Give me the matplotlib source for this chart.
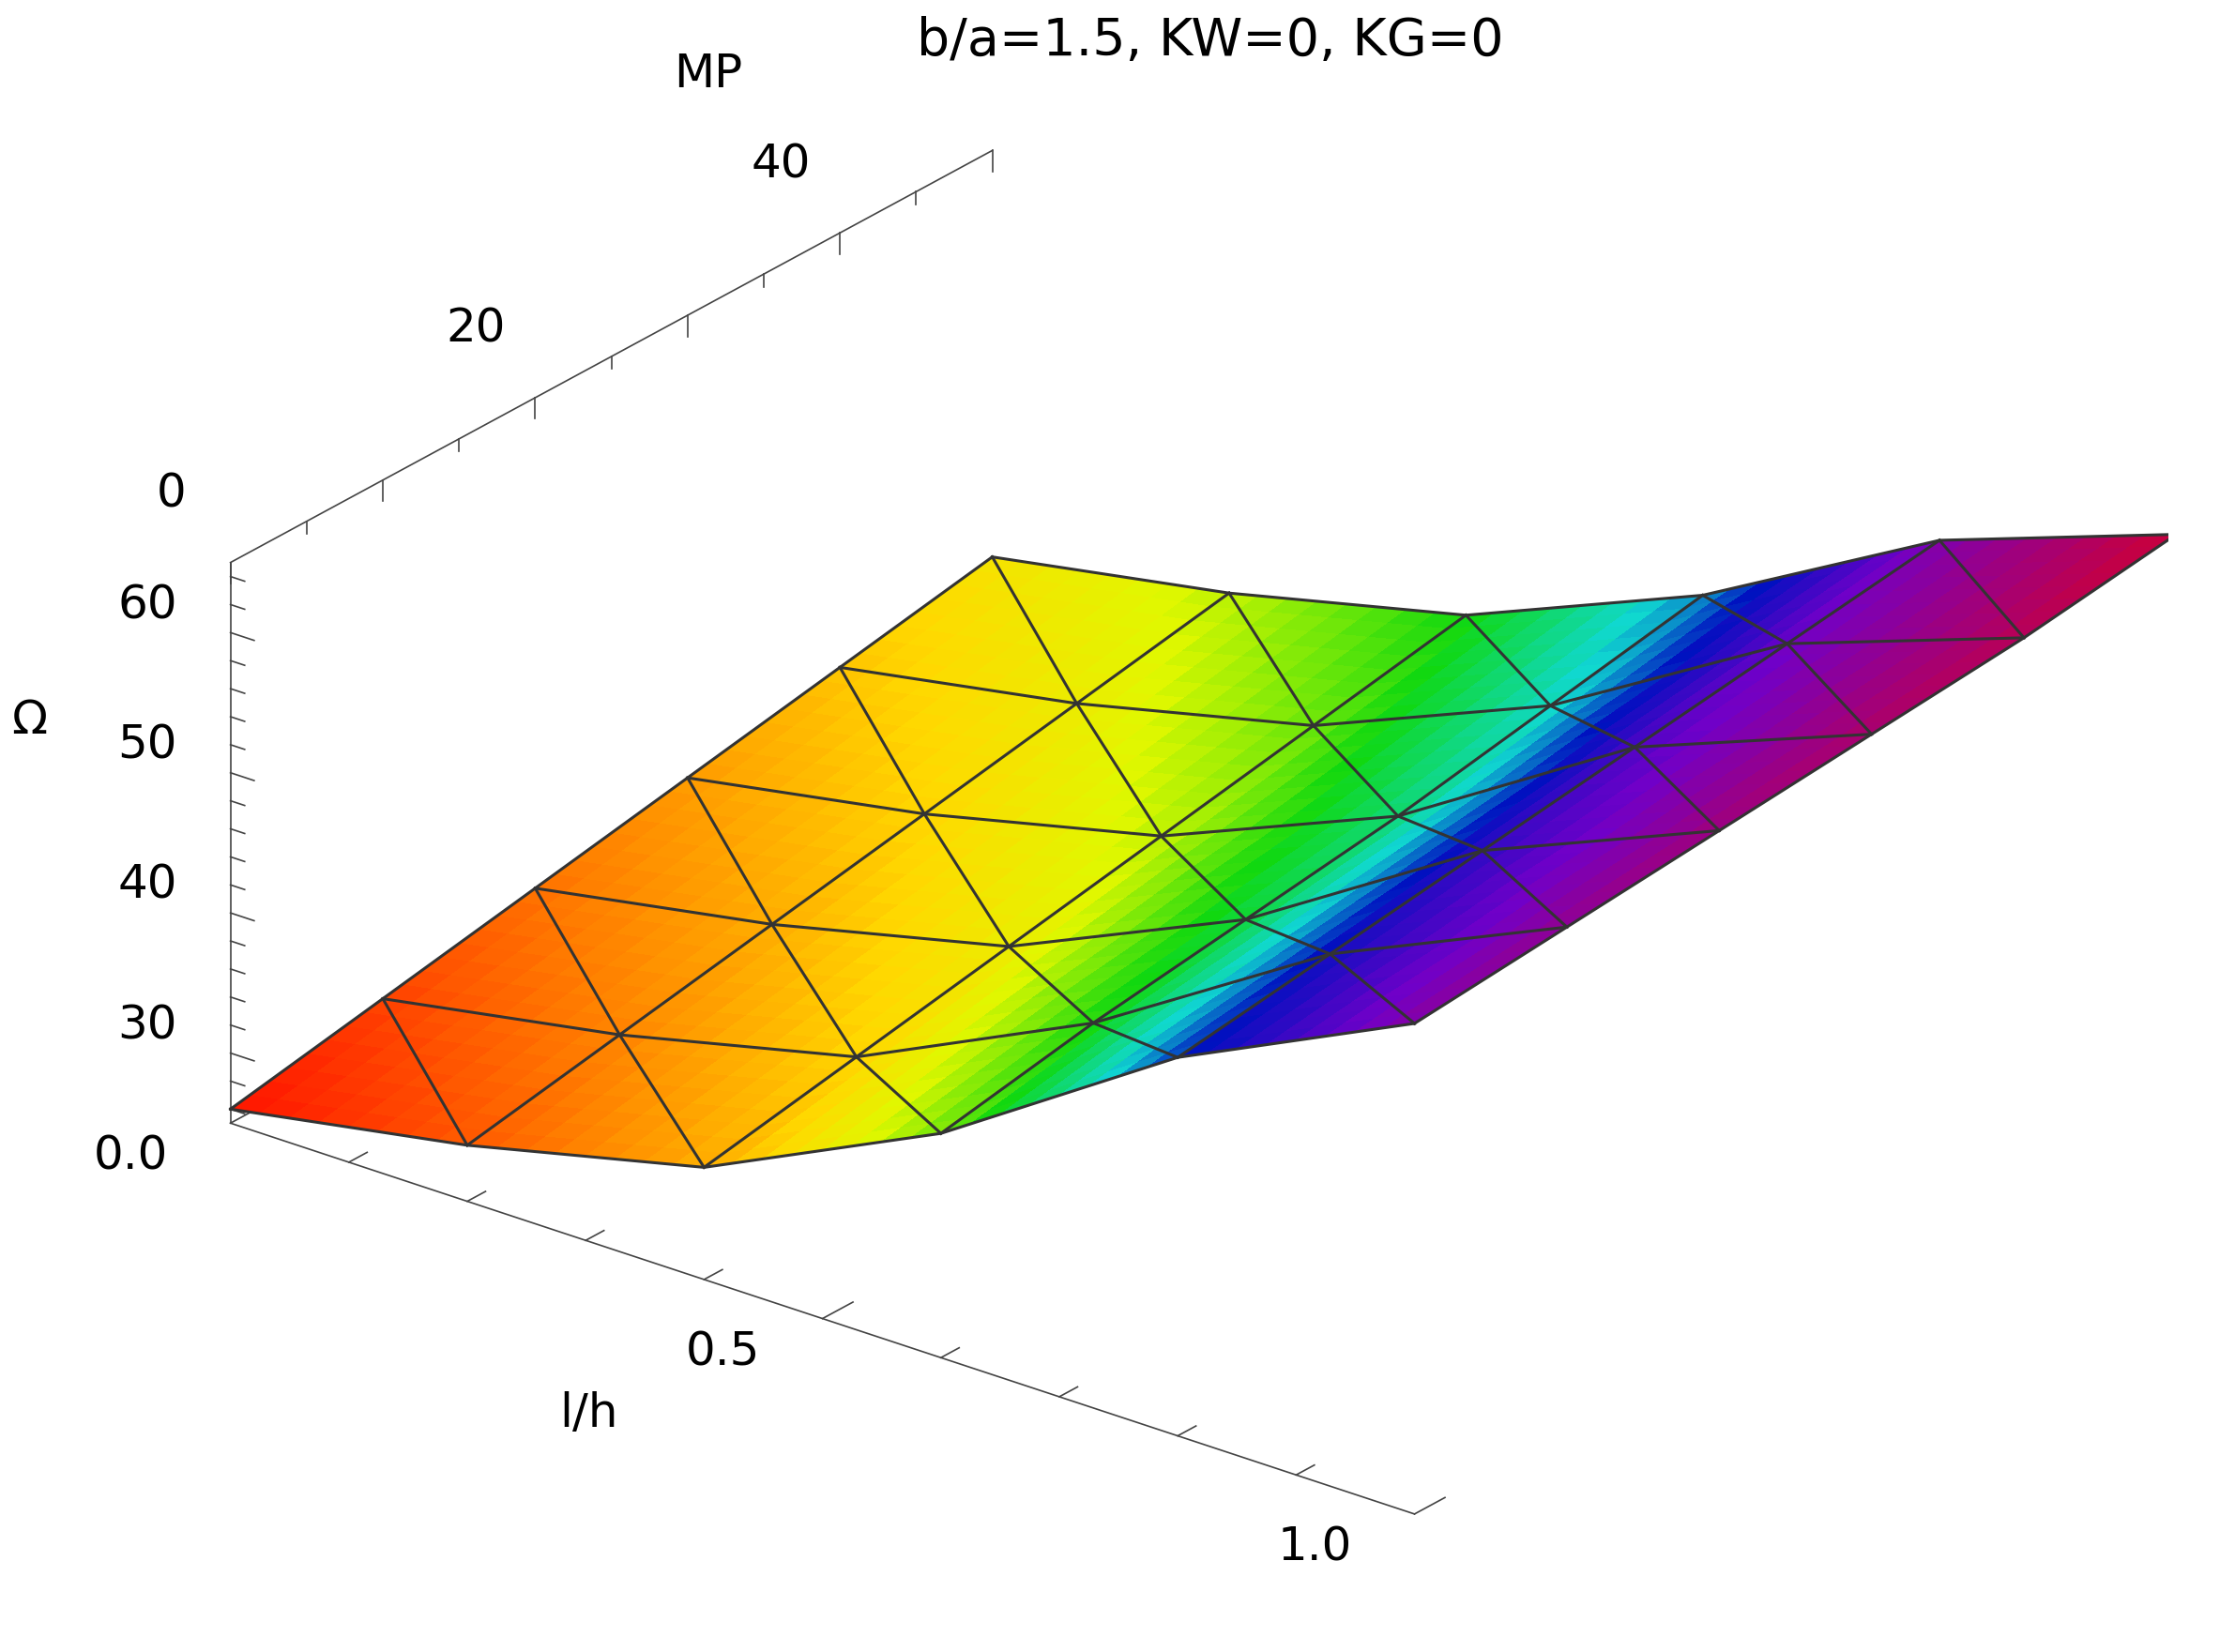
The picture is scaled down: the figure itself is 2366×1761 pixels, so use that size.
import numpy as np
import matplotlib
matplotlib.use("Agg")
import matplotlib.pyplot as plt
from matplotlib.colors import LinearSegmentedColormap

lh = [0.0, 0.2, 0.4, 0.6, 0.8, 1.0]
mp = [0, 10, 20, 30, 40, 50]
# Omega[i_mp][j_lh]
omega = [
    [26.0, 29.0, 33.0, 41.0, 52.0, 60.0],
    [28.0, 31.0, 35.0, 43.0, 53.5, 61.0],
    [30.0, 33.0, 37.0, 44.5, 55.0, 62.0],
    [32.0, 35.0, 39.0, 46.0, 56.5, 63.0],
    [34.0, 37.0, 41.0, 48.0, 58.0, 64.0],
    [36.0, 39.0, 43.0, 50.0, 59.5, 65.5],
]
x_ticks = [0.0, 0.5, 1.0]
y_ticks = [0, 20, 40]
z_ticks = [30, 40, 50, 60]

X, Y = np.meshgrid(lh, mp)
Z = np.array(omega)

fig = plt.figure(figsize=(23.66, 17.61), dpi=100)
ax = fig.add_axes([-0.04, -0.12, 1.14, 1.2], projection="3d", proj_type="ortho")
cmap = LinearSegmentedColormap.from_list("rb", [
    (0.0, "#ff1a00"), (0.1, "#ff7800"), (0.22, "#ffd800"), (0.3, "#e0f800"),
    (0.42, "#10d810"), (0.55, "#10d8d0"), (0.66, "#0010c0"), (0.8, "#7000c8"), (1.0, "#d00030")])
fine = 8
xs = np.linspace(0, 1, (len(lh) - 1) * fine + 1)
ys = np.linspace(0, 50, (len(mp) - 1) * fine + 1)
XX, YY = np.meshgrid(xs, ys)
def tri_interp(x, y):
    gx = x / 0.2; gy = y / 10.0
    j = min(int(gx), 4); i = min(int(gy), 4)
    u = gx - j; v = gy - i
    if u + v <= 1:
        return Z[i, j] + u * (Z[i, j + 1] - Z[i, j]) + v * (Z[i + 1, j] - Z[i, j])
    return Z[i + 1, j + 1] + (1 - u) * (Z[i + 1, j] - Z[i + 1, j + 1]) + (1 - v) * (Z[i, j + 1] - Z[i + 1, j + 1])
ZZ = np.vectorize(tri_interp)(XX, YY)
fc = cmap((ZZ - 26) / (65.5 - 26))
ax.plot_surface(XX, YY, ZZ, facecolors=fc, shade=False, linewidth=0, antialiased=False, rstride=1, cstride=1)
n = len(lh)
kw = dict(color="#333333", lw=2.2, zorder=5)
for i in range(n):
    ax.plot(X[i], Y[i], Z[i], **kw)
    ax.plot(X[:, i], Y[:, i], Z[:, i], **kw)
for i in range(n - 1):
    for j in range(n - 1):
        ax.plot([X[i + 1, j], X[i, j + 1]], [Y[i + 1, j], Y[i, j + 1]], [Z[i + 1, j], Z[i, j + 1]], **kw)

ax.set_axis_off()
ax.set_xlim(0, 1); ax.set_ylim(0, 50); ax.set_zlim(25, 65)
ak = dict(color="#444444", lw=1.2)
fs = 36
# l/h axis at MP=0, Omega=25
ax.plot([0, 1], [0, 0], [25, 25], **ak)
for t in np.arange(0, 1.01, 0.1):
    L = 2.0 if round(t * 10) % 5 == 0 else 1.2
    ax.plot([t, t], [0, L], [25, 25], **ak)
for t in x_ticks:
    ax.text(t - 0.02, -5, 25, f"{t:.1f}", fontsize=fs, ha="center", va="center")
ax.text(0.47, -13, 25, "l/h", fontsize=fs, ha="center", va="center")
# MP axis at l/h=0, Omega=65
ax.plot([0, 0], [0, 50], [65, 65], **ak)
for t in range(0, 51, 5):
    L = 1.5 if t % 10 == 0 else 0.9
    ax.plot([0, 0], [t, t], [65, 65 - L], **ak)
for t in y_ticks:
    ax.text(-0.05, t, 68.5, f"{t}", fontsize=fs, ha="center", va="center")
ax.text(-0.06, 36, 77, "MP", fontsize=fs, ha="center", va="center")
# Omega axis at l/h=0, MP=0
ax.plot([0, 0], [0, 0], [25, 65], **ak)
for t in range(26, 65, 2):
    L = 0.02 if t % 10 == 0 else 0.012
    ax.plot([0, L], [0, 0], [t, t], **ak)
for t in z_ticks:
    ax.text(-0.07, 0, t, f"{t}", fontsize=fs, ha="center", va="center")
ax.text(-0.17, 0, 49, "Ω", fontsize=fs, ha="center", va="center")
ax.view_init(elev=25, azim=-52)
ax.set_box_aspect((1.7, 1.4, 0.7))
fig.text(0.545, 0.975, "b/a=1.5, KW=0, KG=0", fontsize=40, ha="center", va="center")
fig.savefig("out.png", dpi=100)
